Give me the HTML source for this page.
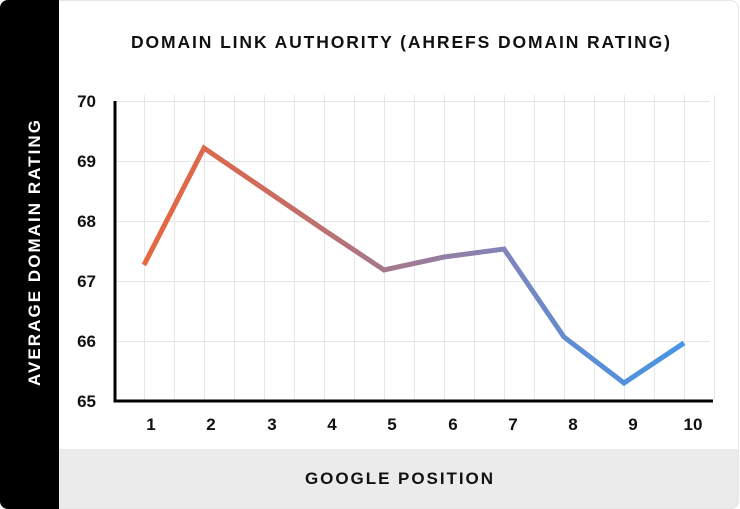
<!DOCTYPE html>
<html><head><meta charset="utf-8"><style>
html,body{margin:0;padding:0;background:#fff;}
svg{display:block;}
text{font-family:"Liberation Sans",sans-serif;font-weight:bold;}
</style></head><body>
<svg width="740" height="509" viewBox="0 0 740 509" xmlns="http://www.w3.org/2000/svg">
<defs>
<clipPath id="card"><rect x="0" y="0" width="739" height="509" rx="8" ry="8"/></clipPath>
<linearGradient id="lg" gradientUnits="userSpaceOnUse" x1="144" y1="0" x2="684" y2="0">
<stop offset="0" stop-color="#e6683f"/>
<stop offset="0.2" stop-color="#d26a58"/>
<stop offset="0.45" stop-color="#a5788a"/>
<stop offset="0.67" stop-color="#8284bb"/>
<stop offset="0.8" stop-color="#5e8dd2"/>
<stop offset="1" stop-color="#4795e4"/>
</linearGradient>
</defs>
<rect x="0" y="0" width="740" height="509" fill="#ffffff"/>
<g clip-path="url(#card)">
<rect x="0" y="0" width="739" height="509" fill="#ffffff"/>
<rect x="59" y="449" width="681" height="60" fill="#ebebeb"/>
<rect x="0" y="0" width="59" height="509" fill="#000"/>
</g>
<rect x="0.5" y="0.5" width="738" height="508" rx="8" ry="8" fill="none" stroke="#e6e6e6" stroke-width="1"/>
<rect x="0" y="0" width="59" height="509" rx="8" ry="8" fill="#000"/>
<rect x="20" y="0" width="39" height="509" fill="#000"/>

<text x="131" y="48" font-size="17.5" textLength="539" lengthAdjust="spacing" fill="#111">DOMAIN LINK AUTHORITY (AHREFS DOMAIN RATING)</text>

<text transform="translate(40,386) rotate(-90)" x="0" y="0" font-size="17" textLength="266" lengthAdjust="spacing" fill="#fff">AVERAGE DOMAIN RATING</text>

<text x="305" y="484" font-size="17" textLength="188" lengthAdjust="spacing" fill="#111">GOOGLE POSITION</text>

<g stroke="#e6e6e6" stroke-width="1">
<line x1="115" y1="101.5" x2="710" y2="101.5"/>
<line x1="115" y1="161.5" x2="710" y2="161.5"/>
<line x1="115" y1="221.5" x2="710" y2="221.5"/>
<line x1="115" y1="281.5" x2="710" y2="281.5"/>
<line x1="115" y1="341.5" x2="710" y2="341.5"/>
<line x1="144.5" y1="95" x2="144.5" y2="400"/>
<line x1="174.5" y1="95" x2="174.5" y2="400"/>
<line x1="204.5" y1="95" x2="204.5" y2="400"/>
<line x1="234.5" y1="95" x2="234.5" y2="400"/>
<line x1="264.5" y1="95" x2="264.5" y2="400"/>
<line x1="294.5" y1="95" x2="294.5" y2="400"/>
<line x1="324.5" y1="95" x2="324.5" y2="400"/>
<line x1="354.5" y1="95" x2="354.5" y2="400"/>
<line x1="384.5" y1="95" x2="384.5" y2="400"/>
<line x1="414.5" y1="95" x2="414.5" y2="400"/>
<line x1="444.5" y1="95" x2="444.5" y2="400"/>
<line x1="474.5" y1="95" x2="474.5" y2="400"/>
<line x1="504.5" y1="95" x2="504.5" y2="400"/>
<line x1="534.5" y1="95" x2="534.5" y2="400"/>
<line x1="564.5" y1="95" x2="564.5" y2="400"/>
<line x1="594.5" y1="95" x2="594.5" y2="400"/>
<line x1="624.5" y1="95" x2="624.5" y2="400"/>
<line x1="654.5" y1="95" x2="654.5" y2="400"/>
<line x1="684.5" y1="95" x2="684.5" y2="400"/>
<line x1="714.5" y1="95" x2="714.5" y2="400"/>
</g>

<line x1="115" y1="101" x2="115" y2="402.5" stroke="#000" stroke-width="3"/>
<line x1="113.5" y1="401" x2="713" y2="401" stroke="#000" stroke-width="3"/>

<g font-size="17" fill="#111" text-anchor="end">
<text x="96" y="107">70</text>
<text x="96" y="167">69</text>
<text x="96" y="227">68</text>
<text x="96" y="287">67</text>
<text x="96" y="347">66</text>
<text x="96" y="407">65</text>
</g>
<g font-size="17" fill="#111" text-anchor="middle">
<text x="151" y="430">1</text>
<text x="211" y="430">2</text>
<text x="272" y="430">3</text>
<text x="332" y="430">4</text>
<text x="392" y="430">5</text>
<text x="453" y="430">6</text>
<text x="513" y="430">7</text>
<text x="573" y="430">8</text>
<text x="633" y="430">9</text>
<text x="693" y="430">10</text>
</g>

<polyline points="144,265 204,148 264,189 324,230 384,270 444,257 504,249 564,337 624,383 684,343" fill="none" stroke="url(#lg)" stroke-width="5" stroke-linejoin="miter" stroke-linecap="butt"/>
</svg>
</body></html>
